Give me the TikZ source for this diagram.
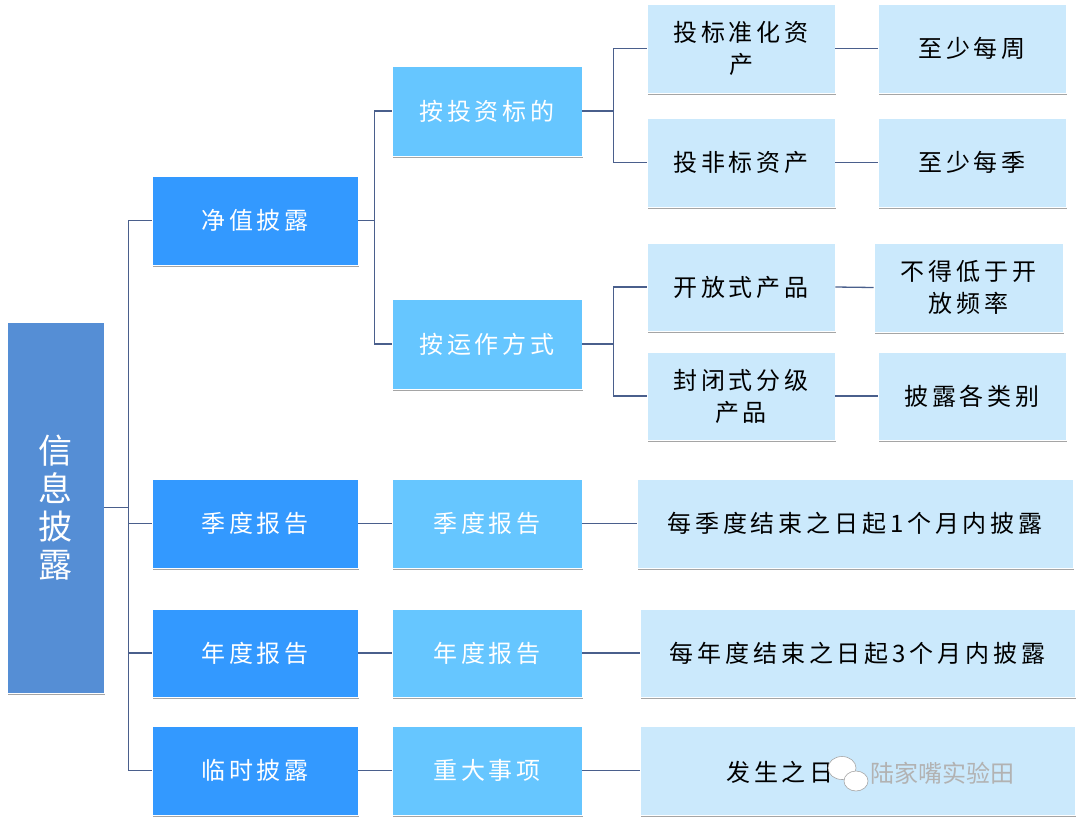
\documentclass[tikz,border=0pt]{standalone}
\usepackage{fontspec}
\newfontfamily\cjk[LetterSpace=16]{Noto Sans CJK SC}
\newfontfamily\cjkplain{Noto Sans CJK SC}
\usetikzlibrary{shadows}
\definecolor{rootc}{HTML}{558ED5}
\definecolor{lonec}{HTML}{3399FF}
\definecolor{ltwoc}{HTML}{66C6FF}
\definecolor{lthreec}{HTML}{CBE9FC}
\definecolor{connc}{HTML}{4A5F8C}
\newcommand\mybox[7]{\node[#6, minimum width={#4-#2}, minimum height={#5-#3}] (#1) at ({(#2+#4)/2},{(#3+#5)/2}) {#7};}
\begin{document}
\begin{tikzpicture}[x=1pt,y=-1pt,
  box/.style={draw=white, line width=0.8pt, inner sep=0pt, align=center,
    drop shadow={shadow xshift=1pt, shadow yshift=-2pt, opacity=0.5, fill=black!70},
    font=\cjk\fontsize{24}{32}\selectfont},
  rootbox/.style={box, fill=rootc, text=white, font=\cjkplain\fontsize{34}{38}\selectfont},
  onebox/.style={box, fill=lonec, text=white},
  twobox/.style={box, fill=ltwoc, text=white},
  threebox/.style={box, fill=lthreec, text=black},
  conn/.style={draw=connc, line width=1.3pt}]
\useasboundingbox (0,0) rectangle (1080,823);

\mybox{root}{7}{322}{104}{693}{rootbox}{信\\息\\披\\露}

\mybox{la}{152}{176}{358}{265}{onebox}{净值披露}
\mybox{lb}{152}{479}{358}{568}{onebox}{季度报告}
\mybox{lc}{152}{609}{358}{697}{onebox}{年度报告}
\mybox{ld}{152}{726}{358}{815}{onebox}{临时披露}

\mybox{ma}{392}{66}{582}{156}{twobox}{按投资标的}
\mybox{mb}{392}{299}{582}{389}{twobox}{按运作方式}
\mybox{mc}{392}{479}{582}{568}{twobox}{季度报告}
\mybox{md}{392}{609}{582}{697}{twobox}{年度报告}
\mybox{me}{392}{726}{582}{815}{twobox}{重大事项}

\mybox{na}{647}{4}{835}{93}{threebox}{投标准化资\\产}
\mybox{nb}{647}{118}{835}{207}{threebox}{投非标资产}
\mybox{nc}{647}{243}{835}{331}{threebox}{开放式产品}
\mybox{nd}{647}{352}{835}{440}{threebox}{封闭式分级\\产品}

\mybox{oa}{878}{4}{1066}{93}{threebox}{至少每周}
\mybox{ob}{878}{118}{1066}{207}{threebox}{至少每季}
\mybox{oc}{874}{243}{1063}{332}{threebox}{不得低于开\\放频率}
\mybox{od}{878}{352}{1066}{440}{threebox}{披露各类别}

\mybox{wa}{637}{479}{1073}{568}{threebox}{每季度结束之日起1个月内披露}
\mybox{wb}{640}{609}{1075}{697}{threebox}{每年度结束之日起3个月内披露}
\mybox{wc}{640}{726}{1075}{815}{threebox}{}

% connectors
\draw[conn] (root.east) -- ++(25,0);
\draw[conn] (la.west) -- ++(-23,0) |- (ld.west);
\draw[conn] (lb.west) -- ++(-23,0);
\draw[conn] (lc.west) -- ++(-23,0);

\draw[conn] (la.east) -- ++(17,0);
\draw[conn] (ma.west) -- ++(-17,0) |- (mb.west);

\draw[conn] (ma.east) -- ++(32,0);
\draw[conn] (na.west) -- ++(-33,0) |- (nb.west);
\draw[conn] (mb.east) -- ++(32,0);
\draw[conn] (nc.west) -- ++(-33,0) |- (nd.west);

\draw[conn] (na.east) -- (oa.west);
\draw[conn] (nb.east) -- (ob.west);
\draw[conn] (nc.east) -- (oc.west);
\draw[conn] (nd.east) -- (od.west);

\draw[conn] (lb.east) -- (mc.west);
\draw[conn] (lc.east) -- (md.west);
\draw[conn] (ld.east) -- (me.west);
\draw[conn] (mc.east) -- (wa.west);
\draw[conn] (md.east) -- (wb.west);
\draw[conn] (me.east) -- (wc.west);

% partially hidden text and watermark
\node[anchor=west, inner sep=0pt, font=\cjk\fontsize{24}{32}\selectfont] (wct) at (726,772) {发生之日};
\fill[white, draw=black!35, line width=0.6pt] (842,768) ellipse [x radius=14, y radius=11.5];
\fill[white, draw=black!35, line width=0.6pt] (856,781) ellipse [x radius=12, y radius=10];
\node[anchor=west, inner sep=0pt, text=black!30, font=\cjkplain\fontsize{24}{28}\selectfont] (wm) at (870,773) {陆家嘴实验田};
\end{tikzpicture}
\end{document}
